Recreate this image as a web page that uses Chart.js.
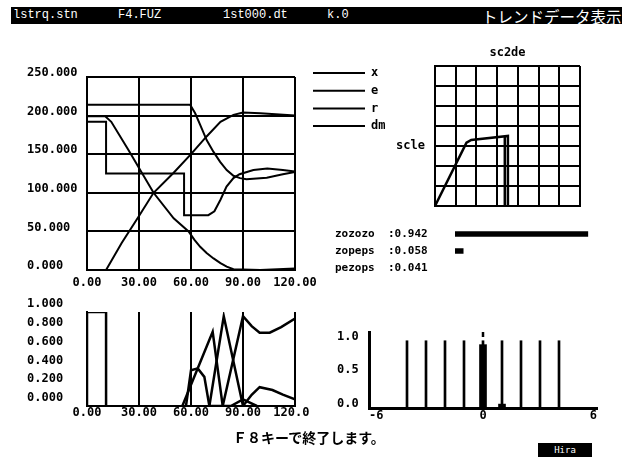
<!DOCTYPE html>
<html>
<head>
<meta charset="utf-8">
<script src="https://cdn.jsdelivr.net/npm/chart.js@4.4.0/dist/chart.umd.min.js"></script>
<style>
  body { margin:0; width:622px; height:457px; background:#fff; position:relative; overflow:hidden; }
  canvas { position:absolute; }
  #head { position:absolute; left:11px; top:7px; width:611px; height:17px; background:#000; color:#fff; overflow:hidden; font:12px 'Liberation Mono', monospace; }
  #head span { position:absolute; top:1px; white-space:nowrap; }
  #head .jp { font:15.5px 'Noto Sans CJK JP', sans-serif; top:-2px; }
  #foot { position:absolute; left:233px; top:427px; font:bold 14px 'Noto Sans CJK JP', sans-serif; white-space:nowrap; }
  #mode { position:absolute; left:538px; top:443px; width:54px; height:14px; background:#000; color:#fff; font:9px 'DejaVu Sans Mono', monospace; text-align:center; line-height:14px; }
</style>
</head>
<body>
<div id="head">
  <span style="left:2px">lstrq.stn</span>
  <span style="left:107px">F4.FUZ</span>
  <span style="left:212px">1st000.dt</span>
  <span style="left:316px">k.0</span>
  <span class="jp" style="left:471px">トレンドデータ表示</span>
</div>
<canvas id="trend" width="400" height="250" style="left:0;top:50px"></canvas>
<canvas id="sc2de" width="230" height="175" style="left:380px;top:40px"></canvas>
<canvas id="grades" width="270" height="54" style="left:335px;top:224px"></canvas>
<canvas id="member" width="310" height="140" style="left:0;top:290px"></canvas>
<canvas id="output" width="280" height="105" style="left:330px;top:320px"></canvas>
<div id="foot">Ｆ８キーで終了します。</div>
<div id="mode">Hira</div>
<script>
// trend data (time, value)
const timeX = [0, 10.5, 14, 24, 38.4, 50, 58.6, 62, 65.3, 69, 73, 77, 80.6, 84.5, 100, 110, 120];
const valX  = [199, 199, 192, 155, 100, 67, 50, 39, 30, 22, 15, 9, 4.3, 1, 0, 1, 2];
const timeE = [11, 20, 30, 38.4, 50, 60, 69, 77, 84.5, 90, 100, 120];
const valE  = [0, 35, 70, 100, 126, 150, 173, 192, 201, 204, 203, 200];
const timeR = [0, 11, 11, 56, 56, 70, 73.5, 77, 80.5, 84.5, 88, 96, 104, 113, 120];
const valR  = [192, 192, 125, 125, 71, 71, 76, 91, 108, 119, 124, 129.5, 131.5, 129.5, 127.5];
const timeDm = [0, 59.5, 62.4, 65.3, 69.1, 73, 76.8, 80.6, 84.5, 88.3, 92, 103.7, 113, 120];
const valDm  = [214, 214, 203, 188, 168, 153, 140, 129.5, 122, 119, 117.5, 119.5, 124, 127];

// sc2de shape
const scShapeX = [0, 1.52, 1.75, 3.52, 3.52];
const scShapeY = [0, 3.17, 3.3, 3.5, 0];
const scCutX = [3.37, 3.37];
const scCutY = [3.48, 0];
const scLevelLabels = ['', '', '', 'scle', '', '', '', ''];

// output grades
const outNames = ['zozozo', 'zopeps', 'pezops'];
const outValues = [0.942, 0.058, 0.041];

// membership grades over time
const tM0 = [0, 0, 11, 11];
const vM0 = [0, 1, 1, 0];
const tM1 = [55, 72.5, 78.3];
const vM1 = [0, 0.79, 0];
const tM2 = [70.6, 78.9, 90, 95, 99.6, 107, 113, 120];
const vM2 = [0, 0.955, 0, 0.12, 0.2, 0.17, 0.12, 0.07];
const tM3 = [78.3, 90, 95, 99.6, 105.4, 112, 120];
const vM3 = [0, 0.955, 0.85, 0.78, 0.78, 0.84, 0.93];
const tM4 = [57.1, 60, 63.9, 67.7, 70.6, 83, 90, 98];
const vM4 = [0, 0.38, 0.4, 0.31, 0, 0, 0.07, 0];

// output singletons
const singleAt = [-4, -3, -2, -1, 0, 1, 2, 3, 4];
const singleHeight = [1, 1, 1, 1, 1, 1, 1, 1, 1];
const firedAt = [0, 1];
const firedHeight = [0.942, 0.058];
const markAt = [0];
const markHeight = [1.1];

const pts = (t, v) => t.map((x, i) => ({x: x, y: v[i]}));
const AX = {family: 'DejaVu Sans Mono', size: 12, weight: 'bold'};

Chart.defaults.color = '#000';
Chart.defaults.animation = false;
Chart.defaults.responsive = false;
Chart.defaults.plugins.legend.display = false;
Chart.defaults.plugins.tooltip.enabled = false;

// force axis size and drop label overflow padding
function fitAxis(w, h) {
    return function(scale) {
        if (w !== null) scale.width = w;
        if (h !== null) scale.height = h;
        scale.paddingLeft = 0; scale.paddingRight = 0;
        scale.paddingTop = 0; scale.paddingBottom = 0;
    };
}

// legend drawn beside the plot
const sideLegend = {
    id: 'sideLegend',
    afterDraw(chart) {
        const ctx = chart.ctx, a = chart.chartArea;
        ctx.save();
        ctx.strokeStyle = '#000';
        ctx.fillStyle = '#000';
        ctx.lineWidth = 2;
        ctx.font = 'bold 12px "DejaVu Sans Mono"';
        ctx.textBaseline = 'middle';
        chart.data.datasets.forEach((ds, i) => {
            const y = a.top - 4 + i * 17.7;
            ctx.beginPath();
            ctx.moveTo(a.right + 18, y);
            ctx.lineTo(a.right + 70, y);
            ctx.stroke();
            ctx.fillText(ds.label, a.right + 76, y);
        });
        ctx.restore();
    }
};

new Chart(document.getElementById('trend'), {
    type: 'line',
    data: {
        datasets: [
            {label: 'x', data: pts(timeX, valX)},
            {label: 'e', data: pts(timeE, valE)},
            {label: 'r', data: pts(timeR, valR)},
            {label: 'dm', data: pts(timeDm, valDm)}
        ]
    },
    options: {
        layout: {padding: {left: 27, right: 105, top: 27, bottom: 0}},
        elements: {line: {borderColor: '#000', borderWidth: 2, tension: 0}, point: {radius: 0}},
        scales: {
            x: {
                type: 'linear', min: 0, max: 120,
                ticks: {stepSize: 30, callback: v => v.toFixed(2), font: AX, padding: 6, maxRotation: 0, autoSkip: false},
                grid: {color: '#000', lineWidth: 2, drawTicks: false},
                border: {color: '#000', width: 2},
                afterFit: fitAxis(null, 30)
            },
            y: {
                min: 0, max: 250,
                ticks: {stepSize: 50, callback: v => v.toFixed(3), font: AX, crossAlign: 'far', labelOffset: -4},
                grid: {color: '#000', lineWidth: 2, drawTicks: false},
                border: {color: '#000', width: 2},
                afterFit: fitAxis(60, null)
            }
        }
    },
    plugins: [sideLegend]
});

new Chart(document.getElementById('sc2de'), {
    type: 'scatter',
    data: {
        datasets: [
            {data: pts(scShapeX, scShapeY), showLine: true},
            {data: pts(scCutX, scCutY), showLine: true}
        ]
    },
    options: {
        layout: {padding: {left: 0, right: 30, top: 6, bottom: 9}},
        elements: {line: {borderColor: '#000', borderWidth: 2.5}, point: {radius: 0}},
        plugins: {
            title: {display: true, text: 'sc2de', font: AX, color: '#000', fullSize: false, padding: {top: 0, bottom: 5.6}}
        },
        scales: {
            x: {
                min: 0, max: 7,
                ticks: {stepSize: 1, display: false},
                grid: {color: '#000', lineWidth: 2, drawTicks: false},
                border: {color: '#000', width: 2},
                afterFit: fitAxis(null, 0)
            },
            y: {
                min: 0, max: 7,
                ticks: {stepSize: 1, font: AX, padding: 10, callback: (v, i) => scLevelLabels[i]},
                grid: {color: '#000', lineWidth: 2, drawTicks: false},
                border: {color: '#000', width: 2},
                afterFit: fitAxis(55, null)
            }
        }
    }
});

new Chart(document.getElementById('grades'), {
    type: 'bar',
    data: {
        labels: outNames,
        datasets: [{data: outValues, backgroundColor: ['#000', '#000', 'rgba(0,0,0,0)'], barThickness: 5}]
    },
    options: {
        indexAxis: 'y',
        layout: {padding: {left: 0, right: 9, top: 1.5, bottom: 1.5}},
        scales: {
            x: {min: 0, max: 1, display: false},
            y: {
                ticks: {font: {family: 'DejaVu Sans Mono', size: 11, weight: 'bold'}, crossAlign: 'far',
                        callback: (v, i) => outNames[i] + '  :' + outValues[i].toFixed(3)},
                grid: {display: false, drawTicks: false},
                border: {display: false},
                afterFit: fitAxis(120, null)
            }
        }
    }
});

new Chart(document.getElementById('member'), {
    type: 'scatter',
    data: {
        datasets: [
            {data: pts(tM0, vM0)},
            {data: pts(tM1, vM1)},
            {data: pts(tM2, vM2)},
            {data: pts(tM3, vM3)},
            {data: pts(tM4, vM4)}
        ]
    },
    options: {
        showLine: true,
        layout: {padding: {left: 27, right: 15, top: 22, bottom: 0}},
        elements: {line: {borderColor: '#000', borderWidth: 2.5}, point: {radius: 0}},
        scales: {
            x: {
                min: 0, max: 120,
                ticks: {stepSize: 30, callback: v => v.toFixed(2), font: AX, padding: 0, maxRotation: 0, autoSkip: false},
                grid: {color: '#000', lineWidth: 2, drawTicks: false},
                border: {color: '#000', width: 2},
                afterFit: fitAxis(null, 24)
            },
            y: {
                min: 0, max: 1,
                ticks: {stepSize: 0.2, callback: v => v.toFixed(3), font: AX, crossAlign: 'far', labelOffset: -8},
                grid: {display: false, drawTicks: false},
                border: {color: '#000', width: 2},
                afterFit: fitAxis(60, null)
            }
        }
    }
});

new Chart(document.getElementById('output'), {
    type: 'bar',
    data: {
        datasets: [
            {data: pts(singleAt, singleHeight), backgroundColor: '#000', barThickness: 2, grouped: false},
            {data: pts(firedAt, firedHeight), backgroundColor: '#000', barThickness: 7, grouped: false},
            {type: 'scatter', data: pts(markAt, markHeight), pointStyle: 'line', rotation: 90,
             radius: 3, borderColor: '#000', borderWidth: 2.5}
        ]
    },
    options: {
        layout: {padding: {left: 7, right: 13, top: 12, bottom: 0}},
        scales: {
            x: {
                type: 'linear', min: -6, max: 6, offset: false,
                ticks: {stepSize: 12, font: AX, align: 'inner', padding: 1, maxRotation: 0},
                grid: {display: false, offset: false, drawTicks: false},
                border: {color: '#000', width: 3},
                afterFit: fitAxis(null, 17)
            },
            y: {
                min: 0, max: 1.13,
                ticks: {stepSize: 0.5, includeBounds: false, callback: v => v.toFixed(1), font: AX, crossAlign: 'far', labelOffset: -4},
                grid: {display: false, drawTicks: false},
                border: {color: '#000', width: 3},
                afterFit: fitAxis(32, null)
            }
        }
    }
});
</script>
</body>
</html>
